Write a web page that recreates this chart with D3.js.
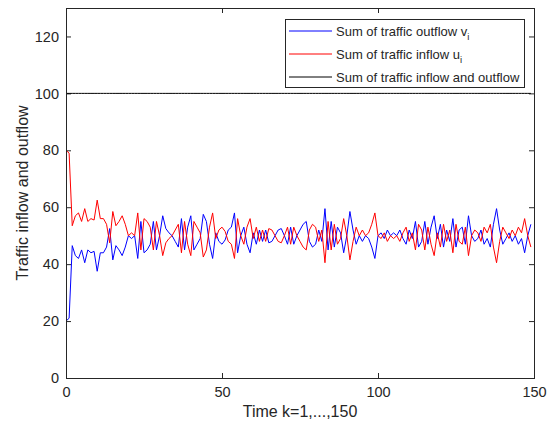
<!DOCTYPE html>
<html>
<head>
<meta charset="utf-8">
<script src="https://cdn.jsdelivr.net/npm/d3@7"></script>
<style>
  body { margin: 0; background: #fff; }
  text { font-family: "Liberation Sans", Arial, Helvetica, sans-serif; fill: #262626; }
</style>
</head>
<body>
<div id="chart"></div>
<script>
// sum of traffic outflow v_i, k = 0..149
var outflow = [20, 21, 46.5, 43, 42, 45, 40.5, 45, 44, 44.5,
  37.5, 44, 44, 46, 52.5, 41.5, 46.5, 45, 43, 46,
  50, 49, 50, 42, 55, 44, 45, 47, 55, 45,
  50, 57, 52.5, 51, 50, 48, 46, 56, 45, 53,
  57, 45, 47, 49, 57.5, 55, 47, 42, 51, 48,
  47, 48.5, 52, 53, 58, 44, 50, 53, 47, 44,
  51, 47, 52, 48, 52, 47.5, 48, 50, 52, 52.5,
  50, 47, 53, 47, 50, 52, 54, 55, 48, 46,
  47, 52, 48, 59.5, 45, 55, 46, 53, 51, 44,
  50, 58.5, 52, 47, 50, 48, 50, 49, 46, 42,
  50, 51, 49, 52, 50, 51, 50, 52, 49, 47,
  52, 49, 55, 46, 48, 55, 47, 53, 57, 49,
  54, 46, 52, 48, 56, 46, 52, 53, 47, 57,
  50, 48, 49, 52, 47, 49, 46, 54, 59.5, 52,
  47, 49, 51, 48, 50, 47, 49, 44, 50, 54];

// sum of traffic inflow u_i, k = 0..149
var inflow = [80, 79, 53.5, 57, 58, 55, 59.5, 55, 56, 55.5,
  62.5, 56, 56, 54, 47.5, 58.5, 53.5, 55, 57, 54,
  50, 51, 50, 58, 45, 56, 55, 53, 45, 55,
  50, 43, 47.5, 49, 50, 52, 54, 44, 55, 47,
  43, 55, 53, 51, 42.5, 45, 53, 58, 49, 52,
  53, 51.5, 48, 47, 42, 56, 50, 47, 53, 56,
  49, 53, 48, 52, 48, 52.5, 52, 50, 48, 47.5,
  50, 53, 47, 53, 50, 48, 46, 45, 52, 54,
  53, 48, 52, 40.5, 55, 45, 54, 47, 49, 56,
  50, 41.5, 48, 53, 50, 52, 50, 51, 54, 58,
  50, 49, 51, 48, 50, 49, 50, 48, 51, 53,
  48, 51, 45, 54, 52, 45, 53, 47, 43, 51,
  46, 54, 48, 52, 44, 54, 48, 47, 53, 43,
  50, 52, 51, 48, 53, 51, 54, 46, 40.5, 48,
  53, 51, 49, 52, 50, 53, 51, 56, 50, 46];

// sum of inflow and outflow
var total = [100, 100, 100, 100, 100, 100, 100, 100, 100, 100,
  100, 100, 100, 100, 100, 100, 100, 100, 100, 100,
  100, 100, 100, 100, 100, 100, 100, 100, 100, 100,
  100, 100, 100, 100, 100, 100, 100, 100, 100, 100,
  100, 100, 100, 100, 100, 100, 100, 100, 100, 100,
  100, 100, 100, 100, 100, 100, 100, 100, 100, 100,
  100, 100, 100, 100, 100, 100, 100, 100, 100, 100,
  100, 100, 100, 100, 100, 100, 100, 100, 100, 100,
  100, 100, 100, 100, 100, 100, 100, 100, 100, 100,
  100, 100, 100, 100, 100, 100, 100, 100, 100, 100,
  100, 100, 100, 100, 100, 100, 100, 100, 100, 100,
  100, 100, 100, 100, 100, 100, 100, 100, 100, 100,
  100, 100, 100, 100, 100, 100, 100, 100, 100, 100,
  100, 100, 100, 100, 100, 100, 100, 100, 100, 100,
  100, 100, 100, 100, 100, 100, 100, 100, 100, 100];

var xTicks = [0, 50, 100, 150];
var yTicks = [0, 20, 40, 60, 80, 100, 120];

var legendItems = [
  {label: 'Sum of traffic outflow v', sub: 'i', color: '#0000ff'},
  {label: 'Sum of traffic inflow u', sub: 'i', color: '#ff0000'},
  {label: 'Sum of traffic inflow and outflow', sub: '', color: '#000000'}
];

var width = 552, height = 423;
var margin = {top: 8, right: 18, bottom: 45, left: 66};
var w = width - margin.left - margin.right;
var h = height - margin.top - margin.bottom;
var axisColor = '#262626';

var svg = d3.select('#chart')
  .append('svg')
  .attr('width', width)
  .attr('height', height);

svg.append('rect')
  .attr('width', width)
  .attr('height', height)
  .attr('fill', 'white');

var g = svg.append('g')
  .attr('transform', 'translate(' + margin.left + ',' + margin.top + ')');

var x = d3.scaleLinear().domain([0, 150]).range([0, w]);
var y = d3.scaleLinear().domain([0, 130]).range([h, 0]);

// ticks on all four sides, pointing inward
var tickLen = 5;
g.append('g').attr('transform', 'translate(0,' + h + ')')
  .call(d3.axisBottom(x).tickValues(xTicks).tickSizeInner(-tickLen).tickSizeOuter(0).tickPadding(9));
g.append('g')
  .call(d3.axisTop(x).tickValues(xTicks).tickSizeInner(-tickLen).tickSizeOuter(0).tickFormat(''));
g.append('g')
  .call(d3.axisLeft(y).tickValues(yTicks).tickSizeInner(-tickLen).tickSizeOuter(0).tickPadding(7));
g.append('g').attr('transform', 'translate(' + w + ',0)')
  .call(d3.axisRight(y).tickValues(yTicks).tickSizeInner(-tickLen).tickSizeOuter(0).tickFormat(''));

g.selectAll('.domain').remove();
g.selectAll('.tick line').attr('stroke', axisColor);
g.selectAll('.tick text')
  .attr('font-size', 14.5)
  .attr('font-family', '"Liberation Sans", Arial, sans-serif')
  .attr('fill', axisColor);

var line = d3.line()
  .x(function(d, i) { return x(i); })
  .y(function(d) { return y(d); });

g.append('path').datum(outflow)
  .attr('d', line).attr('fill', 'none')
  .attr('stroke', '#0000ff').attr('stroke-width', 1);

g.append('path').datum(inflow)
  .attr('d', line).attr('fill', 'none')
  .attr('stroke', '#ff0000').attr('stroke-width', 1);

g.append('path').datum(total)
  .attr('d', line).attr('fill', 'none')
  .attr('stroke', '#000000').attr('stroke-width', 1);

// box
g.append('rect')
  .attr('x', 0.5).attr('y', 0.5)
  .attr('width', w).attr('height', h)
  .attr('fill', 'none')
  .attr('stroke', axisColor)
  .attr('stroke-width', 1);

// axis titles
svg.append('text')
  .attr('x', margin.left + w / 2)
  .attr('y', 417)
  .attr('text-anchor', 'middle')
  .attr('font-size', 16)
  .text('Time k=1,...,150');

svg.append('text')
  .attr('transform', 'translate(28,' + (margin.top + h / 2) + ') rotate(-90)')
  .attr('text-anchor', 'middle')
  .attr('font-size', 16)
  .text('Traffic inflow and outflow');

// legend
var legend = svg.append('g').attr('transform', 'translate(285,19)');
legend.append('rect')
  .attr('x', 0.5).attr('y', 0.5)
  .attr('width', 239).attr('height', 68)
  .attr('fill', 'white')
  .attr('stroke', axisColor)
  .attr('stroke-width', 1);

var rows = legend.selectAll('g.row')
  .data(legendItems)
  .enter()
  .append('g')
  .attr('class', 'row')
  .attr('transform', function(d, i) { return 'translate(0,' + (12 + i * 23) + ')'; });

rows.append('line')
  .attr('x1', 4).attr('x2', 47)
  .attr('y1', 0).attr('y2', 0)
  .attr('stroke', function(d) { return d.color; })
  .attr('stroke-width', 1);

var txt = rows.append('text')
  .attr('x', 51)
  .attr('y', 5)
  .attr('font-size', 13)
  .attr('fill', '#000');
txt.append('tspan').text(function(d) { return d.label; });
txt.append('tspan')
  .attr('dy', 4)
  .attr('font-size', 9.5)
  .text(function(d) { return d.sub; });
</script>
</body>
</html>
